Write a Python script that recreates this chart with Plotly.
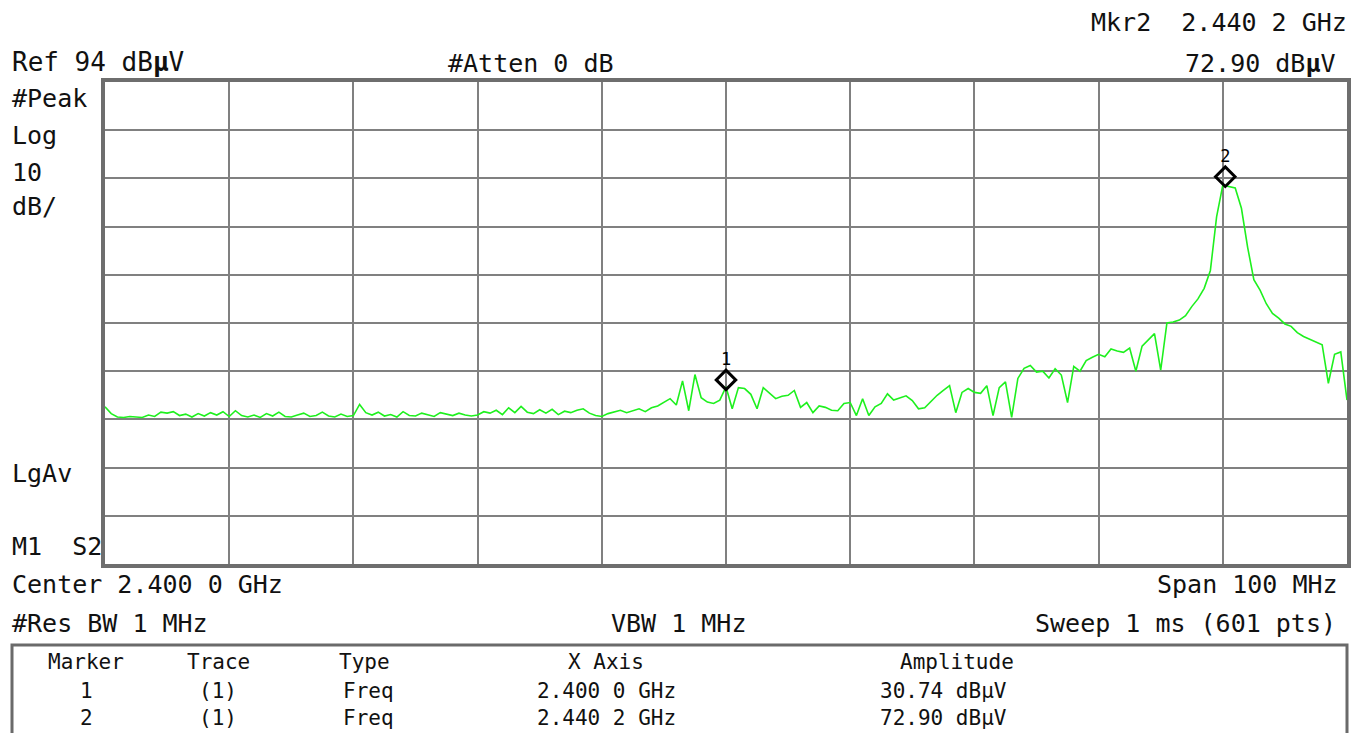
import numpy as np
import plotly.graph_objects as go

# ---------------- data ----------------
center_ghz = 2.4
span_mhz = 100.0
ref_level = 94.0
db_per_div = 10.0
step_mhz = 0.5

trace_dbuv = [
    26.6, 25.2, 24.5, 24.4, 24.6, 24.5, 24.4, 24.9, 24.6, 25.5,
    25.3, 25.6, 24.8, 25.1, 24.5, 25.2, 24.7, 25.4, 24.9, 25.6,
    24.6, 25.8, 24.8, 24.5, 24.9, 24.4, 25.2, 24.7, 25.5, 24.6,
    24.5, 24.9, 25.3, 24.6, 24.8, 25.5, 24.7, 24.5, 25.1, 24.6,
    24.8, 27.1, 25.4, 24.9, 25.5, 24.7, 25.0, 24.5, 25.6, 24.8,
    24.7, 25.3, 25.0, 24.6, 25.4, 25.1, 24.8, 25.3, 24.9, 24.7,
    24.9, 25.6, 25.3, 25.9, 25.0, 26.4, 25.4, 26.7, 25.5, 25.2,
    26.0, 25.3, 26.1, 25.0, 25.7, 25.4, 25.9, 26.2, 25.3, 24.8,
    24.6, 25.2, 25.5, 25.9, 25.4, 25.8, 26.2, 25.6, 26.4, 26.8,
    27.6, 28.3, 27.0, 32.0, 25.8, 33.3, 28.5, 27.6, 27.3, 28.0,
    30.74, 26.2, 30.6, 30.4, 29.2, 26.2, 30.6, 29.5, 28.3, 28.8,
    29.0, 30.0, 26.5, 27.5, 25.4, 26.8, 26.5, 25.9, 25.8, 27.3,
    27.5, 24.8, 28.3, 24.8, 26.6, 27.3, 29.3, 28.0, 28.5, 28.9,
    27.9, 26.2, 26.4, 27.8, 29.0, 30.0, 31.0, 25.4, 29.6, 30.4,
    29.6, 29.4, 31.0, 24.8, 30.6, 31.8, 24.4, 32.5, 34.6, 35.2,
    33.8, 34.0, 32.6, 34.5, 33.2, 27.5, 35.0, 34.0, 36.2, 36.9,
    37.5, 37.0, 38.6, 38.2, 37.9, 38.8, 34.0, 39.2, 40.5, 41.8,
    34.2, 44.0, 44.2, 44.6, 45.5, 47.4, 49.0, 51.2, 54.9, 66.0,
    72.6, 72.3, 72.0, 67.8, 59.7, 53.0, 50.8, 48.0, 46.0, 45.0,
    43.8, 43.3, 42.0, 41.2, 40.6, 40.0, 39.5, 31.5, 37.5, 38.0,
    28.0,
]

marker_ids = ["1", "2"]
marker_freq_ghz = [2.4000, 2.4402]
marker_amp = [30.74, 72.90]

table_headers = ["Marker", "Trace", "Type", "X Axis", "Amplitude"]
table_rows = [
    ["1", "(1)", "Freq", "2.400 0 GHz", "30.74 dBµV"],
    ["2", "(1)", "Freq", "2.440 2 GHz", "72.90 dBµV"],
]

# ---------------- geometry ----------------
W, H = 1363, 733
L, R, T, B = 105, 1347, 82, 564

def px(x):
    return (x - L) / (R - L)

def py(y):
    return (B - y) / (B - T)

start_ghz = center_ghz - span_mhz / 2000.0
stop_ghz = center_ghz + span_mhz / 2000.0
freq_ghz = start_ghz + np.arange(len(trace_dbuv)) * step_mhz / 1000.0
y_bottom = ref_level - 10 * db_per_div

FONT = "DejaVu Sans Mono"
GREEN = "#1ef01e"

fig = go.Figure()
fig.add_trace(go.Scatter(
    x=freq_ghz, y=trace_dbuv, mode="lines",
    line=dict(color=GREEN, width=1.6), hoverinfo="skip", showlegend=False,
))

# marker diamonds sit just above the trace point (bottom vertex at value)
db_per_px = (ref_level - y_bottom) / (B - T)
diamond_offset = 7 * db_per_px
fig.add_trace(go.Scatter(
    x=marker_freq_ghz, y=[a + diamond_offset for a in marker_amp],
    mode="markers+text", text=marker_ids, textposition="top center",
    textfont=dict(family=FONT, size=17, color="black"),
    marker=dict(symbol="diamond-open", size=15, color="black",
                line=dict(color="black", width=3)),
    hoverinfo="skip", showlegend=False, cliponaxis=False,
))

ann = []

def text(s, x, y, anchor="left", size=25):
    ann.append(dict(text=s, x=px(x), y=py(y), xref="paper", yref="paper",
                    xanchor=anchor, yanchor="middle", showarrow=False,
                    font=dict(family=FONT, size=size, color="#111111")))

text("Ref 94 dB<b>µ</b>V", 10, 62, size=26)
text("#Atten 0 dB", 446, 64)
text("Mkr2  2.440 2 GHz", 1349, 22, "right")
text("72.90 dB<b>µ</b>V", 1338, 64, "right")
text("#Peak", 10, 98)
text("Log", 10, 135)
text("10", 10, 172)
text("dB/", 10, 206)
text("LgAv", 10, 473)
text("M1  S2", 10, 546)
text("Center 2.400 0 GHz", 10, 584)
text("Span 100 MHz", 1340, 584, "right")
text("#Res BW 1 MHz", 10, 623)
text("VBW 1 MHz", 678, 623, "center")
text("Sweep 1 ms (601 pts)", 1338, 623, "right")

col_x = [86, 218, 337, 606, 957]
col_anchor = ["center", "center", "left", "center", "center"]
for h, cx, a in zip(table_headers, col_x, col_anchor):
    text(h, cx, 662, a, 21)
row_y = [691, 718]
row_x = [86, 218, 341, 606, 943]
for ry, row in zip(row_y, table_rows):
    for v, cx, a in zip(row, row_x, col_anchor):
        text(v, cx, ry, a, 21)

shapes = [dict(type="rect", xref="paper", yref="paper",
               x0=px(12), x1=px(1347), y0=py(760), y1=py(645),
               line=dict(color="#6a6a6a", width=3), layer="above")]

fig.update_layout(
    width=W, height=H,
    margin=dict(l=L, r=W - R, t=T, b=H - B, pad=0),
    paper_bgcolor="white", plot_bgcolor="white",
    annotations=ann, shapes=shapes,
    xaxis=dict(range=[start_ghz, stop_ghz], dtick=span_mhz / 10000.0,
               tick0=start_ghz, showgrid=True, gridcolor="#808080",
               gridwidth=2, showticklabels=False, ticks="", zeroline=False,
               showline=True, mirror=True, linecolor="#6e6e6e", linewidth=4),
    yaxis=dict(range=[y_bottom, ref_level], dtick=db_per_div, tick0=y_bottom,
               showgrid=True, gridcolor="#808080", gridwidth=2,
               showticklabels=False, ticks="", zeroline=False,
               showline=True, mirror=True, linecolor="#6e6e6e", linewidth=4),
)

fig.write_html(
    "out.html",
    config={"displayModeBar": False, "staticPlot": True},
    post_script="document.body.style.margin='0';document.body.style.overflow='hidden';",
)
